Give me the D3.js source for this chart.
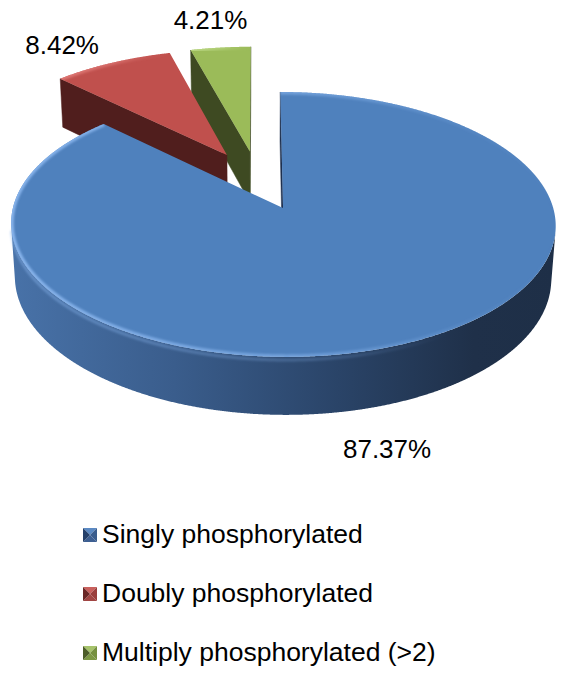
<!DOCTYPE html>
<html><head><meta charset="utf-8">
<script src="https://cdn.jsdelivr.net/npm/d3@7"></script>
<style>html,body{margin:0;padding:0;background:#fff;} svg{display:block;}</style>
</head><body><svg id="chart" width="563" height="673"></svg>
<script>
// ---------- data ----------
const categories = ["Singly phosphorylated", "Doubly phosphorylated", "Multiply phosphorylated (>2)"];
const values = [87.37, 8.42, 4.21];
const valueLabels = ["87.37%", "8.42%", "4.21%"];

// ---------- style ----------
const topColors  = ["#4f81bd", "#c0504d", "#9bbb59"];
const wallColors = ["#1f3150", "#501e1d", "#3e4a22"];
const sideStops  = [
  ["#4872a8", "#3a5d8c", "#2a4468", "#1f3049", "#1e2f47"],
  ["#9a3f3d", "#7a3230", "#5a2524", "#451c1b", "#401a19"],
  ["#7d9748", "#66793a", "#4d5c2c", "#3c4822", "#384320"]
];
const rimColors = ["#8ab6ee", "#e07a77", "#bcd985"];
const markerShades = [
  {top:"#5b89c3", left:"#24406a", right:"#3a5d8d", bottom:"#3d5f92"},
  {top:"#c9605d", left:"#6a2625", right:"#9a3e3c", bottom:"#a14543"},
  {top:"#a6c36b", left:"#4c5d28", right:"#75903f", bottom:"#7c9844"}
];
const labelNudge = [[-17, 105], [-50, -18], [-10, -28]];

const W = 563, H = 673;
const FONT = "'Liberation Sans', Arial, sans-serif";

// ---------- 3D projection ----------
const sinP = 0.47, cosP = Math.sqrt(1 - sinP * sinP);
const D = 7.36;          // camera distance (radius units)
const explode = 0.24;    // explosion distance
const thick = 0.228;     // pie thickness
const Zc = -D * cosP;    // camera position (X=0)
const xs = d3.scaleLinear().domain([-1, 1]).range([258 - 263, 258 + 263]);
const ys = d3.scaleLinear().domain([-1, 1]).range([180 + 263, 180 - 263]);

function project(X, Z, h) {
  const yv = h * cosP + Z * sinP;
  const zv = Z * cosP - h * sinP;
  const s = D / (D + zv);
  return [xs(X * s), ys(yv * s)];
}

const svg = d3.select("#chart");
const defs = svg.append("defs");
defs.append("filter").attr("id", "soft").append("feGaussianBlur").attr("stdDeviation", 0.9);

const arcs = d3.pie().sort(null).value(d => d)(values);
const slices = arcs.map((a, i) => {
  const mid = (a.startAngle + a.endAngle) / 2;
  return {i, a0: a.startAngle, a1: a.endAngle, mid,
          ax: explode * Math.sin(mid), az: explode * Math.cos(mid)};
});

const STEP = Math.PI / 900;
function anglesBetween(a0, a1) {
  const n = Math.max(2, Math.ceil((a1 - a0) / STEP));
  return d3.range(n + 1).map(k => a0 + (a1 - a0) * k / n);
}
const outer = (sl, a, h) => project(sl.ax + Math.sin(a), sl.az + Math.cos(a), h);
const apex = (sl, h) => project(sl.ax, sl.az, h);
const line = d3.line();

// draw far slices first
const order = slices.slice().sort((p, q) => q.az - p.az);

order.forEach(sl => {
  const g = svg.append("g").attr("class", "slice");
  const i = sl.i;

  // --- outer curved wall, visible runs only ---
  const vis = a => -1 - sl.ax * Math.sin(a) + (Zc - sl.az) * Math.cos(a) > 0;
  const angs = anglesBetween(sl.a0, sl.a1);
  const runs = [];
  let cur = null;
  angs.forEach(a => {
    if (vis(a)) { if (!cur) { cur = []; runs.push(cur); } cur.push(a); }
    else cur = null;
  });
  runs.forEach((run, r) => {
    if (run.length < 2) return;
    const topPts = run.map(a => outer(sl, a, 0));
    const botPts = run.slice().reverse().map(a => outer(sl, a, -thick));
    const all = topPts.concat(botPts);
    const x0 = d3.min(all, p => p[0]), x1 = d3.max(all, p => p[0]);
    const gid = `side${i}_${r}`;
    const grad = defs.append("linearGradient").attr("id", gid)
      .attr("gradientUnits", "userSpaceOnUse")
      .attr("x1", x0).attr("x2", x1).attr("y1", 0).attr("y2", 0);
    const offs = [0, 0.3, 0.6, 0.85, 1];
    sideStops[i].forEach((c, k) => grad.append("stop").attr("offset", offs[k]).attr("stop-color", c));
    g.append("path").attr("d", line(all) + "Z").attr("fill", `url(#${gid})`);
    // soft highlight under the rim
    const hl = `sideHl${i}_${r}`;
    const hg = defs.append("linearGradient").attr("id", hl)
      .attr("gradientUnits", "userSpaceOnUse")
      .attr("x1", x0).attr("x2", x1).attr("y1", 0).attr("y2", 0);
    hg.append("stop").attr("offset", 0).attr("stop-color", rimColors[i]).attr("stop-opacity", 0.45);
    hg.append("stop").attr("offset", 0.55).attr("stop-color", rimColors[i]).attr("stop-opacity", 0.25);
    hg.append("stop").attr("offset", 0.8).attr("stop-color", rimColors[i]).attr("stop-opacity", 0);
    g.append("path").attr("d", line(run.map(a => outer(sl, a, -0.012))))
      .attr("fill", "none").attr("stroke", `url(#${hl})`).attr("stroke-width", 3)
      .attr("filter", "url(#soft)");
  });

  // --- radial walls ---
  const walls = [
    {a: sl.a0, n: [-Math.cos(sl.a0), Math.sin(sl.a0)]},
    {a: sl.a1, n: [Math.cos(sl.a1), -Math.sin(sl.a1)]}
  ];
  walls.forEach(w => {
    if (sl.a1 - sl.a0 >= 2 * Math.PI - 1e-6) return;
    const dot = w.n[0] * (0 - sl.ax) + w.n[1] * (Zc - sl.az);
    if (dot <= 0) return;
    const pts = [apex(sl, 0), outer(sl, w.a, 0), outer(sl, w.a, -thick), apex(sl, -thick)];
    g.append("path").attr("d", line(pts) + "Z").attr("fill", wallColors[i])
      .attr("stroke", wallColors[i]).attr("stroke-width", 0.5);
  });

  // --- top face ---
  const topPts = [apex(sl, 0)].concat(angs.map(a => outer(sl, a, 0)));
  const topD = line(topPts) + "Z";
  g.append("path").attr("d", topD).attr("fill", topColors[i]);

  // rim bevel highlight (clipped inside the top face)
  const cid = `clipTop${i}`;
  defs.append("clipPath").attr("id", cid).append("path").attr("d", topD);
  const arcPts = angs.map(a => outer(sl, a, 0));
  const rx0 = d3.min(arcPts, p => p[0]), rx1 = d3.max(arcPts, p => p[0]);
  const rg = defs.append("linearGradient").attr("id", `rim${i}`)
    .attr("gradientUnits", "userSpaceOnUse")
    .attr("x1", rx0).attr("x2", rx1).attr("y1", 0).attr("y2", 0);
  rg.append("stop").attr("offset", 0).attr("stop-color", rimColors[i]).attr("stop-opacity", 0.95);
  rg.append("stop").attr("offset", 0.5).attr("stop-color", rimColors[i]).attr("stop-opacity", 0.6);
  rg.append("stop").attr("offset", 0.85).attr("stop-color", rimColors[i]).attr("stop-opacity", 0.1);
  rg.append("stop").attr("offset", 1).attr("stop-color", rimColors[i]).attr("stop-opacity", 0);
  g.append("g").attr("clip-path", `url(#${cid})`)
    .append("path").attr("d", line(arcPts)).attr("fill", "none")
    .attr("stroke", `url(#rim${i})`).attr("stroke-width", 5).attr("filter", "url(#soft)");
});

// ---------- data labels ----------
slices.forEach(sl => {
  const p = outer(sl, sl.mid, 0);
  svg.append("text")
    .attr("x", p[0] + labelNudge[sl.i][0])
    .attr("y", p[1] + labelNudge[sl.i][1])
    .attr("dy", "0.35em")
    .attr("text-anchor", "middle")
    .attr("font-family", FONT).attr("font-size", 26).attr("fill", "#000")
    .text(valueLabels[sl.i]);
});

// ---------- legend ----------
const legY = d3.scalePoint().domain(categories).range([543, 661]);
const legend = svg.append("g").attr("class", "legend");
categories.forEach((c, i) => {
  const base = legY(c);
  const x0 = 83, y0 = base - 15, s = 14, cx = x0 + s / 2, cy = y0 + s / 2;
  const m = markerShades[i];
  const tri = (pts, col) => legend.append("path").attr("d", line(pts) + "Z").attr("fill", col);
  tri([[x0, y0], [x0 + s, y0], [cx, cy]], m.top);
  tri([[x0 + s, y0], [x0 + s, y0 + s], [cx, cy]], m.right);
  tri([[x0, y0 + s], [x0 + s, y0 + s], [cx, cy]], m.bottom);
  tri([[x0, y0], [x0, y0 + s], [cx, cy]], m.left);
  legend.append("text").attr("x", 102).attr("y", base)
    .attr("font-family", FONT).attr("font-size", 26.5).attr("fill", "#000")
    .text(c);
});
</script>
</body></html>
